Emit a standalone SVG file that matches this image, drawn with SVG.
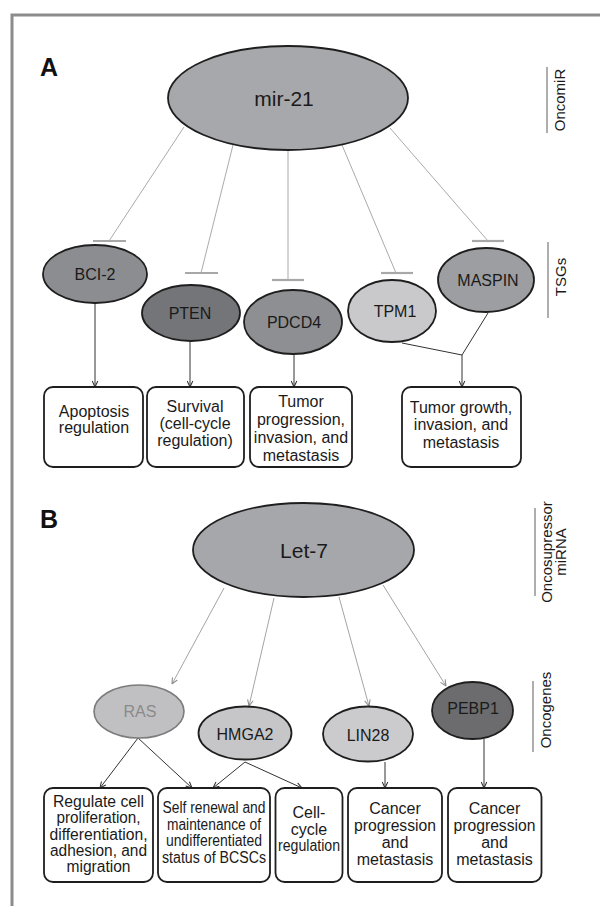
<svg xmlns="http://www.w3.org/2000/svg" width="600" height="906" viewBox="0 0 600 906">
<defs>
<style>
.t{font-family:"Liberation Sans",Arial,sans-serif;fill:#1a1a1a;text-anchor:middle}
.n{font-size:16px}
.big{font-size:21px}
.lbl{font-family:"Liberation Sans",Arial,sans-serif;font-weight:bold;font-size:25px;fill:#111}
.side{font-family:"Liberation Sans",Arial,sans-serif;font-size:15px;fill:#1a1a1a;text-anchor:middle}
.ell{stroke:#1e1e1e;stroke-width:1.8}
.box{fill:#fff;stroke:#1e1e1e;stroke-width:1.8}
.inh{stroke:#a0a0a0;stroke-width:0.9;fill:none}
.bar{stroke:#a8a8a8;stroke-width:2.2}
.act{stroke:#333;stroke-width:1;fill:none;marker-end:url(#ad)}
.actg{stroke:#9a9a9a;stroke-width:0.9;fill:none;marker-end:url(#ag)}
.ov{stroke:#777;stroke-width:1.2}
</style>
<marker id="ad" viewBox="0 0 6 6" refX="5.6" refY="3" markerWidth="7" markerHeight="7" markerUnits="userSpaceOnUse" orient="auto">
<path d="M0.4,0.6 L5.6,3 L0.4,5.4" fill="none" stroke="#333" stroke-width="0.9"/>
</marker>
<marker id="ag" viewBox="0 0 6 6" refX="5.6" refY="3" markerWidth="7" markerHeight="7" markerUnits="userSpaceOnUse" orient="auto">
<path d="M0.4,0.6 L5.6,3 L0.4,5.4" fill="none" stroke="#8a8a8a" stroke-width="0.9"/>
</marker>
</defs>
<rect width="600" height="906" fill="#fff"/>
<g id="frame" stroke="#8c8c8c" stroke-width="3" fill="none">
<path d="M12,906 V15 H600"/>
</g>

<g id="side-labels">
<line class="ov" x1="547" y1="67" x2="547" y2="133"/>
<text class="side" transform="translate(565,100) rotate(-90)">OncomiR</text>
<line class="ov" x1="548" y1="242" x2="548" y2="318"/>
<text class="side" transform="translate(566,277) rotate(-90)">TSGs</text>
<line class="ov" x1="535" y1="508" x2="535" y2="596"/>
<text class="side" transform="translate(552,552) rotate(-90)">Oncosupressor</text>
<text class="side" transform="translate(566,552) rotate(-90)">miRNA</text>
<line class="ov" x1="533" y1="681" x2="533" y2="752"/>
<text class="side" transform="translate(551,710) rotate(-90)">Oncogenes</text>
</g>

<text class="lbl" x="40" y="76">A</text>
<text class="lbl" x="40" y="528">B</text>

<g id="connectors">
<line class="inh" x1="184" y1="127" x2="109" y2="241"/>
<line class="bar" x1="93" y1="241" x2="126" y2="241"/>
<line class="inh" x1="233" y1="145" x2="201" y2="273"/>
<line class="bar" x1="185" y1="273" x2="218" y2="273"/>
<line class="inh" x1="288" y1="150" x2="288" y2="280"/>
<line class="bar" x1="272" y1="280" x2="304" y2="280"/>
<line class="inh" x1="342" y1="145" x2="396" y2="273"/>
<line class="bar" x1="381" y1="273" x2="413" y2="273"/>
<line class="inh" x1="390" y1="128" x2="488" y2="241"/>
<line class="bar" x1="472" y1="241" x2="504" y2="241"/>

<line class="act" x1="95" y1="303" x2="95" y2="387"/>
<line class="act" x1="190" y1="342" x2="190" y2="387"/>
<line class="act" x1="294" y1="355" x2="294" y2="387"/>
<polyline points="402,343 462,355 488,313" fill="none" stroke="#333" stroke-width="1"/>
<line class="act" x1="462" y1="355" x2="462" y2="387"/>

<line class="actg" x1="224" y1="588" x2="172" y2="684"/>
<line class="actg" x1="274" y1="598" x2="249" y2="706"/>
<line class="actg" x1="339" y1="597" x2="369" y2="706"/>
<line class="actg" x1="383" y1="585" x2="446" y2="686"/>

<line class="act" x1="138" y1="738" x2="100" y2="788"/>
<line class="act" x1="138" y1="738" x2="192" y2="788"/>
<line class="act" x1="245" y1="762" x2="213" y2="788"/>
<line class="act" x1="245" y1="762" x2="302" y2="788"/>
<line class="act" x1="385" y1="762" x2="385" y2="788"/>
<line class="act" x1="484" y1="739" x2="484" y2="788"/>
</g>

<g id="mir-21">
<ellipse class="ell" cx="288" cy="98" rx="120" ry="52" fill="#a7a8ab"/>
<text class="t big" x="284" y="106">mir-21</text>
</g>
<g id="bci2">
<ellipse class="ell" cx="95" cy="274" rx="52" ry="29" fill="#8c8d90"/>
<text class="t n" x="95" y="280">BCI-2</text>
</g>
<g id="pten">
<ellipse class="ell" cx="191" cy="313" rx="49" ry="28" fill="#747578"/>
<text class="t n" x="190" y="319">PTEN</text>
</g>
<g id="pdcd4">
<ellipse class="ell" cx="293" cy="322" rx="49" ry="32" fill="#8e8f92"/>
<text class="t n" x="294" y="328">PDCD4</text>
</g>
<g id="tpm1">
<ellipse class="ell" cx="392" cy="311" rx="44" ry="31" fill="#c9c9cc"/>
<text class="t n" x="395" y="317">TPM1</text>
</g>
<g id="maspin">
<ellipse class="ell" cx="486" cy="280" rx="48" ry="32" fill="#9d9ea1"/>
<text class="t n" x="488" y="286">MASPIN</text>
</g>

<g id="box-apoptosis">
<rect class="box" x="44" y="387" width="99" height="80" rx="9"/>
<text class="t n" x="94" y="417">Apoptosis</text>
<text class="t n" x="94" y="433">regulation</text>
</g>
<g id="box-survival">
<rect class="box" x="147" y="387" width="97" height="80" rx="9"/>
<text class="t n" x="195" y="412">Survival</text>
<text class="t n" x="195" y="429">(cell-cycle</text>
<text class="t n" x="195" y="446">regulation)</text>
</g>
<g id="box-tumor">
<rect class="box" x="250" y="387" width="102" height="80" rx="9"/>
<text class="t n" x="301" y="407">Tumor</text>
<text class="t n" x="301" y="425">progression,</text>
<text class="t n" x="301" y="443">invasion, and</text>
<text class="t n" x="301" y="461">metastasis</text>
</g>
<g id="box-growth">
<rect class="box" x="402" y="387" width="119" height="80" rx="9"/>
<text class="t n" x="461" y="413">Tumor growth,</text>
<text class="t n" x="461" y="430">invasion, and</text>
<text class="t n" x="461" y="448">metastasis</text>
</g>

<g id="let-7">
<ellipse class="ell" cx="303.5" cy="550" rx="110.5" ry="47" fill="#a6a7aa"/>
<text class="t big" x="304" y="558">Let-7</text>
</g>
<g id="ras">
<ellipse cx="139" cy="711.5" rx="45" ry="26.5" fill="#c0c0c3" stroke="#7c7c7c" stroke-width="1.6"/>
<text class="t n" x="140" y="717" style="fill:#8a8a8a">RAS</text>
</g>
<g id="hmga2">
<ellipse class="ell" cx="245" cy="733" rx="46.5" ry="26.5" fill="#c6c6c9"/>
<text class="t n" x="245" y="740">HMGA2</text>
</g>
<g id="lin28">
<ellipse class="ell" cx="368" cy="734" rx="45" ry="27.5" fill="#cbcbce"/>
<text class="t n" x="368" y="741">LIN28</text>
</g>
<g id="pebp1">
<ellipse class="ell" cx="472.5" cy="710.5" rx="40.5" ry="28.5" fill="#6c6c6f"/>
<text class="t n" x="473" y="714">PEBP1</text>
</g>

<g id="box-regulate">
<rect class="box" x="44" y="788" width="109" height="94" rx="9"/>
<text class="t n" x="98.5" y="807" textLength="91" lengthAdjust="spacingAndGlyphs">Regulate cell</text>
<text class="t n" x="98.5" y="823" textLength="84" lengthAdjust="spacingAndGlyphs">proliferation,</text>
<text class="t n" x="98.5" y="840" textLength="98" lengthAdjust="spacingAndGlyphs">differentiation,</text>
<text class="t n" x="98.5" y="856" textLength="97" lengthAdjust="spacingAndGlyphs">adhesion, and</text>
<text class="t n" x="98.5" y="872" textLength="64" lengthAdjust="spacingAndGlyphs">migration</text>
</g>
<g id="box-self">
<rect class="box" x="158" y="788" width="112" height="94" rx="9"/>
<text class="t n" x="214" y="813" textLength="103" lengthAdjust="spacingAndGlyphs">Self renewal and</text>
<text class="t n" x="214" y="830" textLength="94" lengthAdjust="spacingAndGlyphs">maintenance of</text>
<text class="t n" x="214" y="846" textLength="96" lengthAdjust="spacingAndGlyphs">undifferentiated</text>
<text class="t n" x="214" y="863" textLength="104" lengthAdjust="spacingAndGlyphs">status of BCSCs</text>
</g>
<g id="box-cellcycle">
<rect class="box" x="275.5" y="788" width="67" height="94" rx="9"/>
<text class="t n" x="309" y="818">Cell-</text>
<text class="t n" x="309" y="834.5">cycle</text>
<text class="t n" x="309" y="851" textLength="62" lengthAdjust="spacingAndGlyphs">regulation</text>
</g>
<g id="box-cancer1">
<rect class="box" x="348" y="788" width="94" height="94" rx="9"/>
<text class="t n" x="395" y="813.5">Cancer</text>
<text class="t n" x="395" y="830.5" textLength="82" lengthAdjust="spacingAndGlyphs">progression</text>
<text class="t n" x="395" y="848">and</text>
<text class="t n" x="395" y="865">metastasis</text>
</g>
<g id="box-cancer2">
<rect class="box" x="448" y="788" width="93.5" height="94" rx="9"/>
<text class="t n" x="494.5" y="813.5">Cancer</text>
<text class="t n" x="494.5" y="830.5" textLength="82" lengthAdjust="spacingAndGlyphs">progression</text>
<text class="t n" x="494.5" y="848">and</text>
<text class="t n" x="494.5" y="865">metastasis</text>
</g>
</svg>
